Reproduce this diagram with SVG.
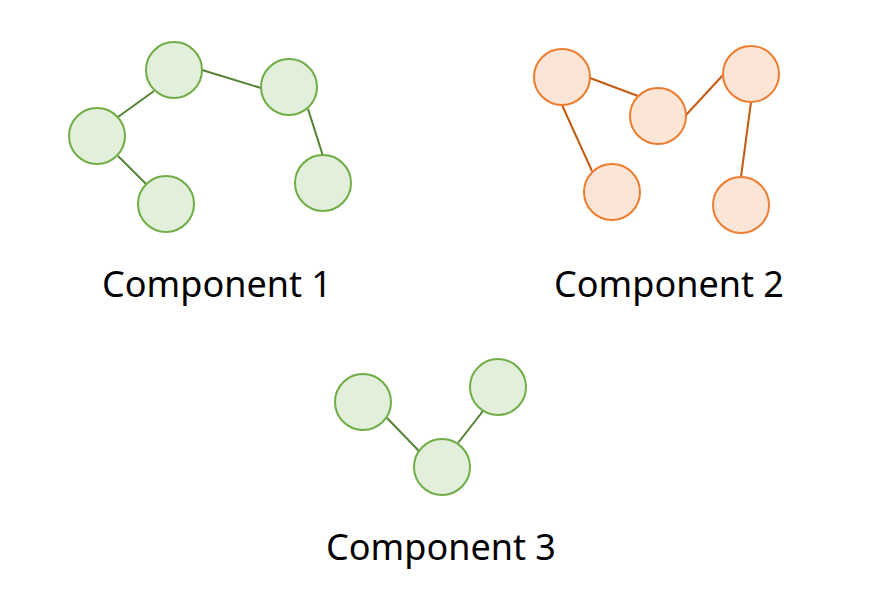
<svg xmlns="http://www.w3.org/2000/svg" width="882" height="609" viewBox="0 0 882 609">
<style>
.g{fill:#e2efda;stroke:#70ad47;stroke-width:2}
.o{fill:#fbe5d6;stroke:#ed7d31;stroke-width:2}
.eg{stroke:#548235;stroke-width:2}
.eo{stroke:#c55a11;stroke-width:2}
.t{font-family:"Noto Sans",sans-serif;font-size:36px;fill:#000;text-anchor:middle}
</style>
<rect width="882" height="609" fill="#fff"/>
<g id="connectors">
<line class="eg" x1="154" y1="91" x2="118" y2="117"/>
<line class="eg" x1="202" y1="70" x2="261" y2="88"/>
<line class="eg" x1="118" y1="156" x2="146" y2="184"/>
<line class="eg" x1="308" y1="109" x2="323" y2="156"/>
<line class="eo" x1="590" y1="78" x2="638" y2="96"/>
<line class="eo" x1="562" y1="105" x2="592" y2="171"/>
<line class="eo" x1="686" y1="115" x2="723" y2="75"/>
<line class="eo" x1="751" y1="102" x2="741" y2="177"/>
<line class="eg" x1="387" y1="418" x2="419" y2="451"/>
<line class="eg" x1="458" y1="443" x2="483" y2="411"/>
</g>
<g id="c1n1"><circle class="g" cx="174" cy="70" r="28"/></g>
<g id="c1n2"><circle class="g" cx="289" cy="87" r="28"/></g>
<g id="c1n3"><circle class="g" cx="97" cy="136" r="28"/></g>
<g id="c1n4"><circle class="g" cx="166" cy="204" r="28"/></g>
<g id="c1n5"><circle class="g" cx="323" cy="183" r="28"/></g>
<g id="c2n1"><circle class="o" cx="562" cy="77" r="28"/></g>
<g id="c2n2"><circle class="o" cx="658" cy="116" r="28"/></g>
<g id="c2n3"><circle class="o" cx="751" cy="74" r="28"/></g>
<g id="c2n4"><circle class="o" cx="612" cy="192" r="28"/></g>
<g id="c2n5"><circle class="o" cx="741" cy="205" r="28"/></g>
<g id="c3n1"><circle class="g" cx="363" cy="402" r="28"/></g>
<g id="c3n2"><circle class="g" cx="498" cy="387" r="28"/></g>
<g id="c3n3"><circle class="g" cx="442" cy="467" r="28"/></g>
<g id="labels">
<text class="t" x="217" y="297">Component 1</text>
<text class="t" x="669" y="297">Component 2</text>
<text class="t" x="441" y="560">Component 3</text>
</g>
</svg>
